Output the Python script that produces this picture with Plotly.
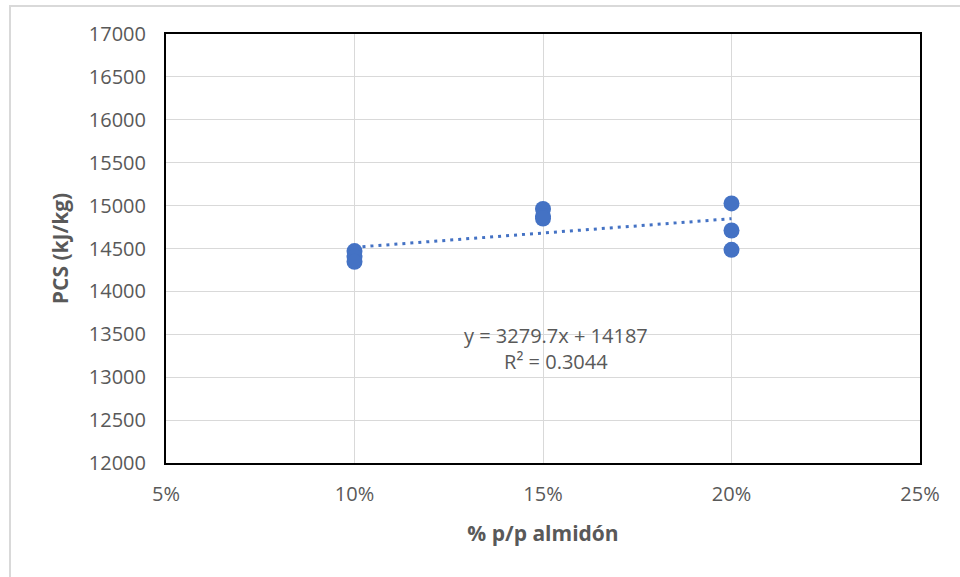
import numpy as np
import plotly.graph_objects as go

# Data
x_vals = [0.10, 0.10, 0.10, 0.15, 0.15, 0.15, 0.20, 0.20, 0.20]
pcs_vals = [14470, 14405, 14345, 14960, 14875, 14850, 15025, 14710, 14485]
x_tick_vals = [0.05, 0.10, 0.15, 0.20, 0.25]
x_tick_text = ["5%", "10%", "15%", "20%", "25%"]
y_tick_vals = [12000, 12500, 13000, 13500, 14000, 14500, 15000, 15500, 16000, 16500, 17000]
y_tick_text = [str(v) for v in y_tick_vals]
eq_text = "y = 3279.7x + 14187<br>R² = 0.3044"

blue = "#4472C4"
gray = "#595959"
font_family = "Open Sans, Liberation Sans, sans-serif"

slope, intercept = np.polyfit(x_vals, pcs_vals, 1)
x_fit = [min(x_vals), max(x_vals)]
y_fit = [slope * v + intercept for v in x_fit]

fig = go.Figure()
fig.add_trace(go.Scatter(x=x_fit, y=y_fit, mode="lines",
                         line=dict(color=blue, width=3, dash="3px,5px"),
                         hoverinfo="skip", showlegend=False))
fig.add_trace(go.Scatter(x=x_vals, y=pcs_vals, mode="markers",
                         marker=dict(color=blue, size=16),
                         showlegend=False))

fig.add_annotation(x=0.1535, y=13330, xref="x", yref="y", text=eq_text,
                   showarrow=False, align="center",
                   font=dict(family=font_family, size=20, color=gray))

# outer chart border
fig.add_shape(type="rect", xref="paper", yref="paper",
              x0=(10 - 166) / 754, x1=(975 - 166) / 754,
              y0=(463 - 590) / 429, y1=1 + (34 - 6) / 429,
              line=dict(color="#D9D9D9", width=2), fillcolor="rgba(0,0,0,0)",
              layer="below")

fig.update_layout(
    width=960, height=577,
    margin=dict(l=166, r=40, t=34, b=114),
    paper_bgcolor="white", plot_bgcolor="white",
    font=dict(family=font_family, color=gray),
    xaxis=dict(range=[0.05, 0.25], tickvals=x_tick_vals, ticktext=x_tick_text,
               showgrid=True, gridcolor="#D9D9D9", gridwidth=1,
               showline=True, linecolor="black", linewidth=2, mirror=True,
               zeroline=False, ticks="", ticklabelstandoff=12,
               tickfont=dict(size=20, color=gray),
               title=dict(text="<b>% p/p almidón</b>", standoff=20,
                          font=dict(size=21, color=gray))),
    yaxis=dict(range=[12000, 17000], tickvals=y_tick_vals, ticktext=y_tick_text,
               showgrid=True, gridcolor="#D9D9D9", gridwidth=1,
               showline=True, linecolor="black", linewidth=2, mirror=True,
               zeroline=False, ticks="", ticklabelstandoff=14,
               tickfont=dict(size=20, color=gray),
               title=dict(text="<b>PCS (kJ/kg)</b>", standoff=14,
                          font=dict(size=21, color=gray))),
)

fig.write_html("out.html", config={"displayModeBar": False},
               post_script="document.body.style.margin='0px';")
